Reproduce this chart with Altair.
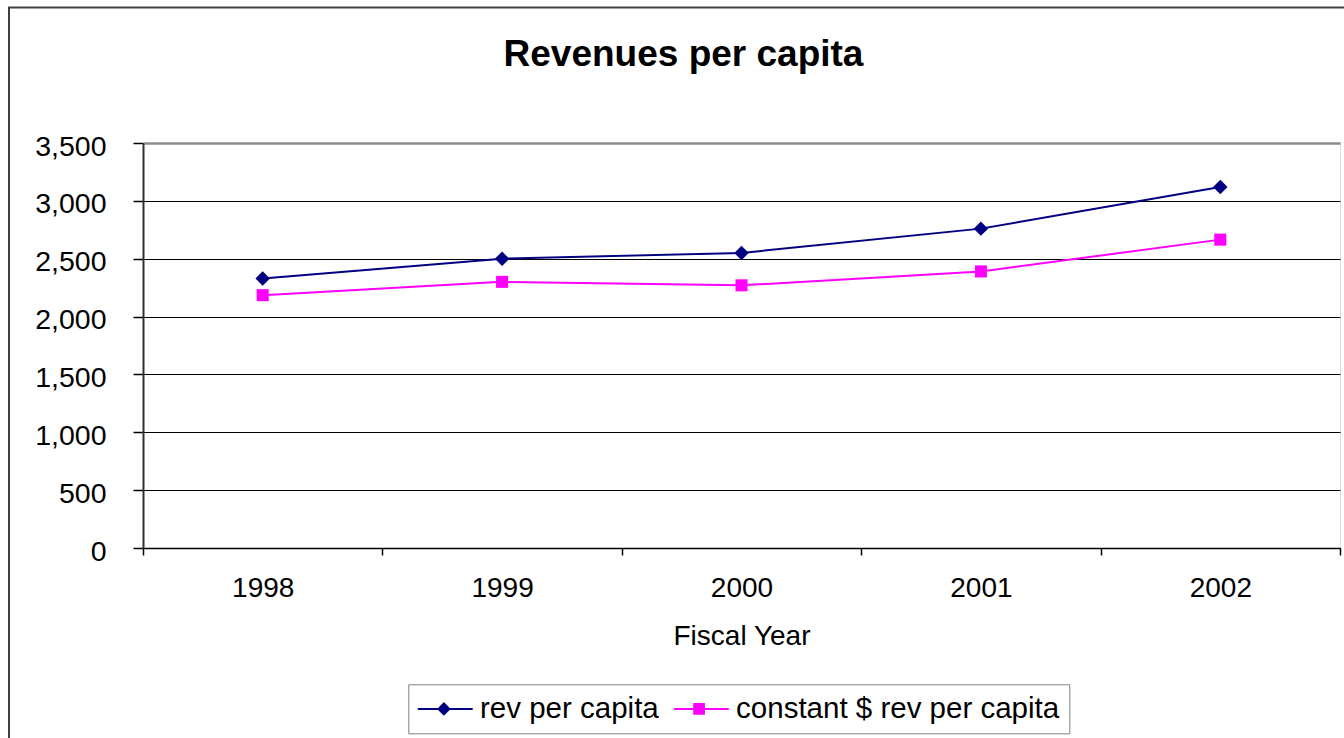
import altair as alt
import pandas as pd

# ---- data ----
years = ["1998", "1999", "2000", "2001", "2002"]
rev_per_capita = [2330, 2500, 2550, 2760, 3120]
constant_rev_per_capita = [2185, 2300, 2270, 2390, 2665]
series_names = ["rev per capita", "constant $ rev per capita"]
series_colors = ["#000080", "#FF00FF"]
y_ticks = [0, 500, 1000, 1500, 2000, 2500, 3000, 3500]

rows = []
for i, y in enumerate(years):
    rows.append({"year": y, "series": series_names[0], "value": rev_per_capita[i]})
for i, y in enumerate(years):
    rows.append({"year": y, "series": series_names[1], "value": constant_rev_per_capita[i]})
df = pd.DataFrame(rows)

FONT = "Liberation Sans"
W, H = 1197, 405

# legend symbols: a short line with the series marker (unit = 7.5 px)
legend_paths = [
    "M-1.967,-0.13L5.353,-0.13L5.353,0.13L-1.967,0.13Z M1.513,-0.91L2.423,0L1.513,0.91L0.603,0Z",
    "M-1.967,-0.13L5.353,-0.13L5.353,0.13L-1.967,0.13Z M0.613,-0.78L2.173,-0.78L2.173,0.78L0.613,0.78Z",
]

x_enc = alt.X(
    "year:N",
    sort=years,
    scale=alt.Scale(type="band", paddingInner=0, paddingOuter=0),
    axis=alt.Axis(
        title="Fiscal Year",
        titleFont=FONT, titleFontSize=28, titleFontWeight="normal", titleColor="black",
        titleBaseline="alphabetic", titleY=96.5,
        labelFont=FONT, labelFontSize=28, labelColor="black", labelAngle=0,
        labelBaseline="alphabetic", labelPadding=41,
        tickBand="extent", tickSize=7, tickColor="black", tickWidth=1.5,
        domainColor="black", domainWidth=1.5, grid=False,
    ),
)
y_enc = alt.Y(
    "value:Q",
    scale=alt.Scale(domain=[0, 3500], nice=False),
    axis=alt.Axis(
        title=None, values=y_ticks, format=",d",
        labelFont=FONT, labelFontSize=28.5, labelColor="black",
        labelBaseline="alphabetic", labelOffset=12, labelPadding=27,
        tickSize=10, tickColor="black", tickWidth=1.5,
        domainColor="#303030", domainWidth=2,
        grid=True,
        gridColor={"condition": {"test": "datum.value >= 3500", "value": "#8c8c8c"}, "value": "black"},
        gridWidth={"condition": {"test": "datum.value >= 3500", "value": 2.5}, "value": 1},
    ),
)
color_scale = alt.Scale(domain=series_names, range=series_colors)

frame = alt.Chart(pd.DataFrame({"a": [0]})).mark_rect(
    filled=False, stroke="#404040", strokeWidth=2
).encode(
    x=alt.value(-134), x2=alt.value(1400 - 143),
    y=alt.value(-135.5), y2=alt.value(800 - 143),
)

legend_kw = dict(
    orient="none", legendX=265.3, legendY=541.3, direction="horizontal", title=None,
    labelFont=FONT, labelFontSize=29.5, labelColor="black", labelLimit=600,
    labelOffset=32.7, columnPadding=14.1, padding=9.5,
    fillColor="white", strokeColor="#808080",
    symbolSize=225, symbolStrokeWidth=0, symbolOpacity=1,
)
# invisible layer that only carries the legend (placed first so its legend wins the merge)
legend_layer = alt.Chart(df).mark_point(
    filled=True, opacity=0, size=225
).encode(
    x=x_enc, y=y_enc,
    color=alt.Color("series:N", scale=color_scale, legend=alt.Legend(**legend_kw)),
    shape=alt.Shape("series:N", scale=alt.Scale(domain=series_names, range=legend_paths), legend=alt.Legend(**legend_kw)),
)

lines = alt.Chart(df).mark_line(strokeWidth=2).encode(
    x=x_enc, y=y_enc,
    color=alt.Color("series:N", scale=color_scale, legend=None),
)

pts_rev = alt.Chart(df).transform_filter(
    alt.datum.series == series_names[0]
).mark_point(filled=True, opacity=1, shape="diamond", size=210).encode(
    x=x_enc, y=y_enc,
    color=alt.Color("series:N", scale=color_scale, legend=None),
)
pts_const = alt.Chart(df).transform_filter(
    alt.datum.series == series_names[1]
).mark_point(filled=True, opacity=1, shape="square", size=145).encode(
    x=x_enc, y=y_enc,
    color=alt.Color("series:N", scale=color_scale, legend=None),
)

chart = alt.layer(frame, legend_layer, lines, pts_rev, pts_const).properties(
    width=W, height=H,
    autosize=alt.AutoSizeParams(type="none"),
    padding={"left": 143, "top": 143, "right": 4, "bottom": 190},
    title=alt.TitleParams(
        "Revenues per capita", font=FONT, fontSize=37, fontWeight="bold", color="black",
        anchor="middle", frame="group", dx=-58, baseline="alphabetic", offset=-96,
    ),
).configure_view(
    stroke="#808080", strokeWidth=2
).configure_legend(
    strokeWidth=2
).configure(background="white")

chart.save("out.html", embed_options={"renderer": "svg", "actions": False})
